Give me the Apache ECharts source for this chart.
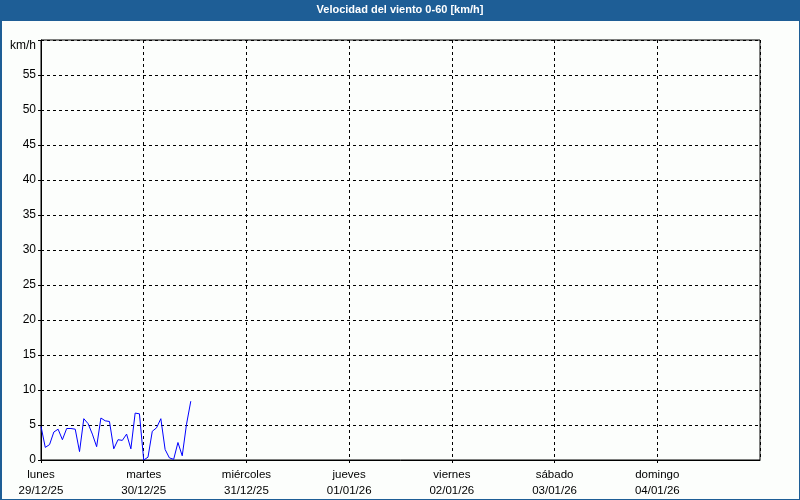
<!DOCTYPE html>
<html>
<head>
<meta charset="utf-8">
<script src="https://cdn.jsdelivr.net/npm/echarts@6/dist/echarts.min.js"></script>
<style>
html,body{margin:0;padding:0;background:#fcfefc;}
#chart{width:800px;height:500px;}
</style>
</head>
<body>
<div id="chart"></div>
<script>
// Data
const chartTitle = 'Velocidad del viento 0-60 [km/h]';
const unitLabel = 'km/h';
const dayNames = ['lunes', 'martes', 'miércoles', 'jueves', 'viernes', 'sábado', 'domingo'];
const dayDates = ['29/12/25', '30/12/25', '31/12/25', '01/01/26', '02/01/26', '03/01/26', '04/01/26'];
const yTicks = [0, 5, 10, 15, 20, 25, 30, 35, 40, 45, 50, 55];
// hourly wind speed from lunes 00:00 (km/h)
const windSpeed = [
  4.8, 1.8, 2.2, 4.0, 4.4, 2.9, 4.5, 4.5, 4.4, 1.2, 5.9, 5.2,
  3.7, 1.9, 6.0, 5.6, 5.5, 1.6, 2.9, 2.8, 3.7, 1.6, 6.7, 6.6,
  0.0, 0.4, 4.1, 4.6, 5.9, 1.5, 0.3, 0.1, 2.5, 0.6, 5.1, 8.4
];
const hoursPerDay = 24;

const chart = echarts.init(document.getElementById('chart'), null, {renderer: 'canvas'});
const font = 'Liberation Sans';
const frameBlue = '#1e5e96';
chart.setOption({
  backgroundColor: '#fcfefc',
  animation: false,
  grid: {left: 41, right: 40, top: 40, bottom: 40, show: true, borderColor: '#000', borderWidth: 1, backgroundColor: 'transparent'},
  graphic: [
    {type: 'rect', left: 0, top: 0, shape: {width: 800, height: 21}, style: {fill: frameBlue}, z: 0},
    {type: 'rect', left: 0, top: 0, shape: {width: 2, height: 500}, style: {fill: frameBlue}, z: 0},
    {type: 'rect', left: 799, top: 0, shape: {width: 1, height: 500}, style: {fill: frameBlue}, z: 0},
    {type: 'rect', left: 0, top: 499, shape: {width: 800, height: 1}, style: {fill: frameBlue}, z: 0},
    {type: 'text', left: 'center', top: 4, style: {text: chartTitle, fill: '#ffffff', font: 'bold 11px "Liberation Sans"'}, z: 10},
    {type: 'text', right: 764, top: 40, style: {text: unitLabel, fill: '#000', font: '12px "Liberation Sans"', textAlign: 'right'}}
  ],
  xAxis: {
    type: 'value', min: 0, max: dayNames.length * hoursPerDay, interval: hoursPerDay,
    axisLine: {show: true, lineStyle: {color: '#000', width: 1}},
    axisTick: {show: true, length: 3, lineStyle: {color: '#000'}},
    splitLine: {show: true, lineStyle: {color: '#000', type: [3, 3], width: 1}},
    axisLabel: {
      color: '#000', fontFamily: font, fontSize: 11.5, lineHeight: 16, margin: 7,
      showMaxLabel: false,
      formatter: v => {
        const i = Math.round(v / hoursPerDay);
        return i < dayNames.length ? dayNames[i] + '\n' + dayDates[i] : '';
      }
    }
  },
  yAxis: {
    type: 'value', min: 0, max: 60, interval: 5,
    axisLine: {show: true, lineStyle: {color: '#000', width: 1}},
    axisTick: {show: true, length: 3, lineStyle: {color: '#000'}},
    splitLine: {show: true, lineStyle: {color: '#000', type: [3, 3], width: 1}},
    axisLabel: {
      color: '#000', fontFamily: font, fontSize: 12, margin: 5,
      formatter: v => yTicks.indexOf(v) >= 0 ? String(v) : ''
    }
  },
  series: [{
    type: 'line',
    data: windSpeed.map((v, i) => [i, v]),
    symbol: 'none',
    lineStyle: {color: '#0000ff', width: 1},
    clip: true
  }]
});
</script>
</body>
</html>
